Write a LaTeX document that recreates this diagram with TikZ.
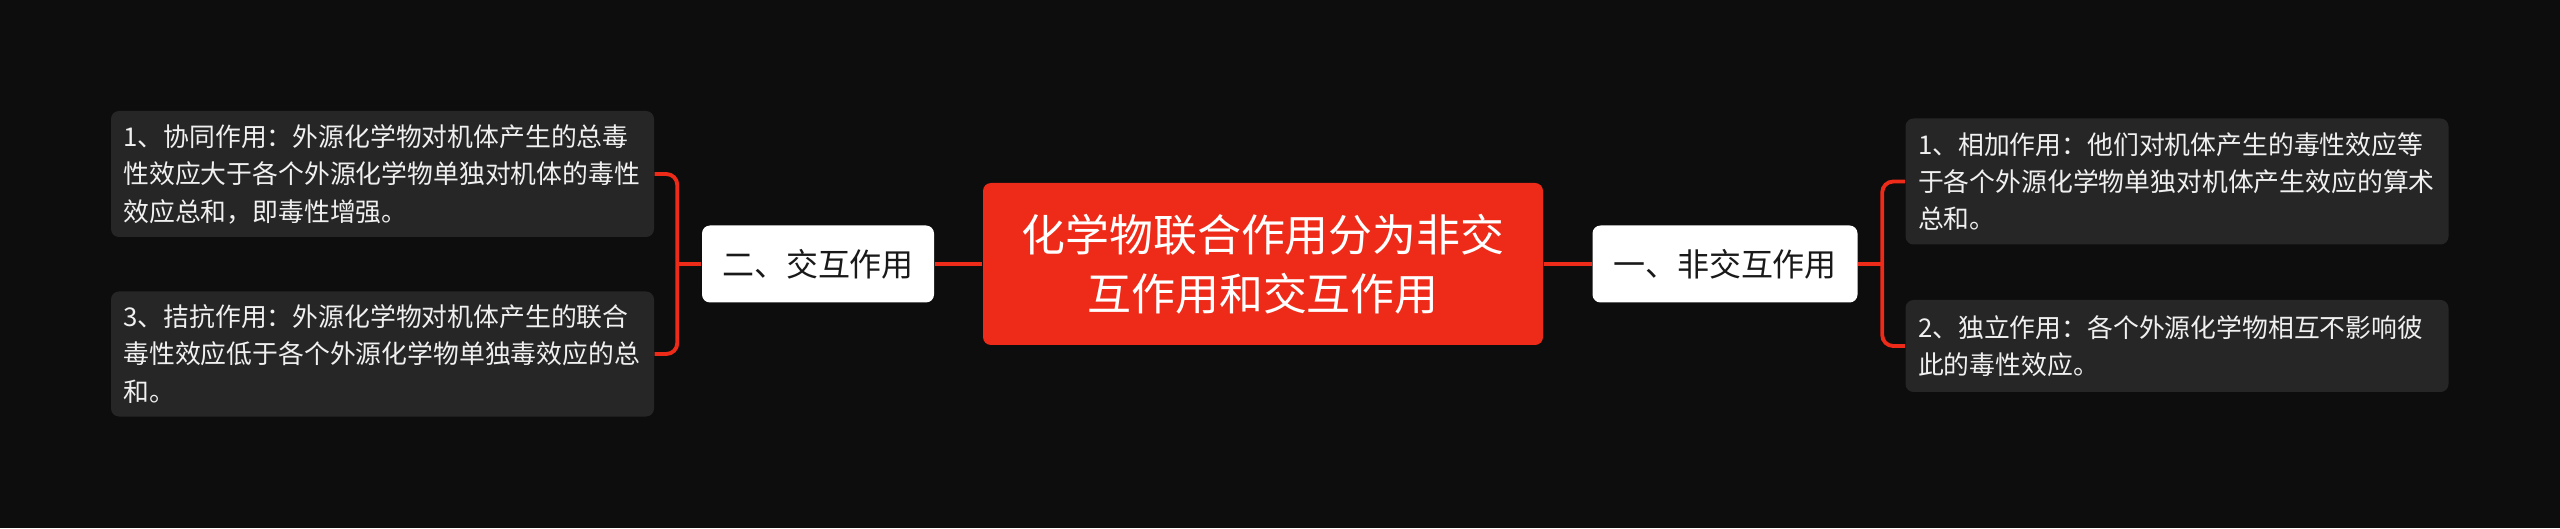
\documentclass[tikz,border=0pt]{standalone}
\usepackage{fontspec}
\setmainfont{Noto Sans CJK SC}
\definecolor{bgdark}{RGB}{13,13,13}
\definecolor{leafgray}{RGB}{38,38,38}
\definecolor{mapred}{RGB}{238,42,24}

\begin{document}
\begin{tikzpicture}[
  root/.style={fill=mapred, text=white, rounded corners=0.08cm, minimum width=5.6cm, minimum height=1.62cm, align=center, font=\fontsize{12.5pt}{16.8pt}\selectfont},
  branch/.style={fill=white, text=black!90, rounded corners=0.08cm, minimum width=#1, minimum height=0.77cm, font=\fontsize{9.1pt}{11pt}\selectfont},
  leaf/.style={fill=leafgray, text=white!94!black, rounded corners=0.08cm, text width=5.18cm, inner xsep=0.125cm, minimum height=#1, align=left, font=\fontsize{7.35pt}{10.65pt}\selectfont},
  link/.style={draw=mapred, line width=1.1pt, rounded corners=0.11cm}
]
\useasboundingbox (0,0) rectangle (25.6,5.28);
\fill[bgdark] (0,0) rectangle (25.6,5.28);

\node[root] (main) at (12.63,2.64) {化学物联合作用分为非交\\互作用和交互作用};
\node[branch=2.32cm] (jiaohu) at (8.18,2.64) {二、交互作用};
\node[branch=2.65cm] (feijiaohu) at (17.25,2.64) {一、非交互作用};

\node[leaf=1.26cm] (xietong) at (3.825,3.54) {1、协同作用：外源化学物对机体产生的总毒\\性效应大于各个外源化学物单独对机体的毒性\\效应总和，即毒性增强。};
\node[leaf=1.25cm] (jiekang) at (3.825,1.74) {3、拮抗作用：外源化学物对机体产生的联合\\毒性效应低于各个外源化学物单独毒效应的总\\和。};
\node[leaf=1.26cm] (xiangjia) at (21.77,3.465) {1、相加作用：他们对机体产生的毒性效应等\\于各个外源化学物单独对机体产生效应的算术\\总和。};
\node[leaf=0.92cm] (duli) at (21.77,1.82) {2、独立作用：各个外源化学物相互不影响彼\\此的毒性效应。};

\draw[link] (main.west) -- (jiaohu.east);
\draw[link] (main.east) -- (feijiaohu.west);

\path (jiaohu.west) ++(-0.24,0) coordinate (lj);
\draw[link] (jiaohu.west) -- (lj);
\draw[link] (xietong.east) -| (lj |- jiekang.east) -- (jiekang.east);

\path (feijiaohu.east) ++(0.24,0) coordinate (rj);
\draw[link] (feijiaohu.east) -- (rj);
\draw[link] (xiangjia.west) -| (rj |- duli.west) -- (duli.west);
\end{tikzpicture}
\end{document}
